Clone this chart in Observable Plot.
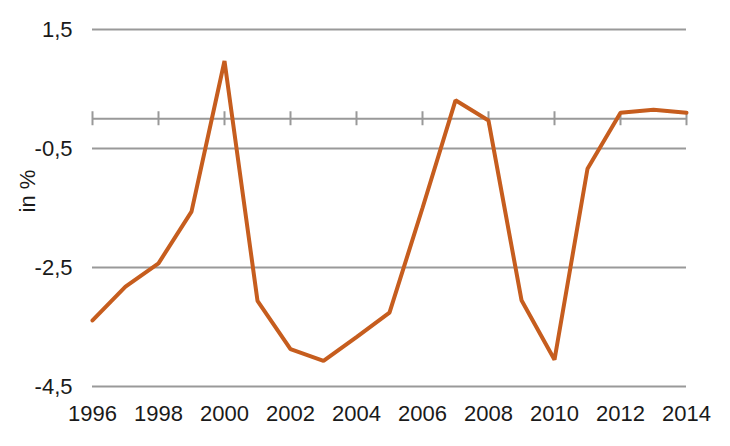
<!DOCTYPE html>
<html>
<head>
<meta charset="utf-8">
<script src="https://cdn.jsdelivr.net/npm/d3@7"></script>
<script src="https://cdn.jsdelivr.net/npm/@observablehq/plot@0.6"></script>
<style>
  html, body { margin: 0; padding: 0; background: #fff; }
</style>
</head>
<body>
<div id="chart"></div>
<script>
const years = [1996,1997,1998,1999,2000,2001,2002,2003,2004,2005,2006,2007,2008,2009,2010,2011,2012,2013,2014];
const values = [-3.39,-2.82,-2.43,-1.56,0.97,-3.06,-3.87,-4.07,-3.67,-3.26,-1.5,0.31,-0.03,-3.05,-4.05,-0.84,0.10,0.15,0.10];
const yTicks = [1.5,-0.5,-2.5,-4.5];
const xTicks = [1996,1998,2000,2002,2004,2006,2008,2010,2012,2014];
const yLabel = "in %";

const data = years.map((y, i) => ({year: y, value: values[i]}));
const fmt = d => String(d).replace(".", ",");

const chart = Plot.plot({
  width: 730,
  height: 446,
  marginLeft: 92,
  marginRight: 44,
  marginTop: 29,
  marginBottom: 60,
  style: {fontFamily: "Liberation Sans, Arial, sans-serif", fontSize: "22px", color: "#1a1a1a", background: "#fff"},
  x: {domain: [1996, 2014]},
  y: {domain: [-4.5, 1.5]},
  marks: [
    Plot.ruleY(yTicks, {stroke: "#999", strokeWidth: 2, strokeOpacity: 1}),
    Plot.ruleY([0], {stroke: "#999", strokeWidth: 2, strokeOpacity: 1}),
    Plot.ruleX(xTicks, {y1: 0, y2: 0, insetTop: -7, insetBottom: -7, stroke: "#999", strokeWidth: 2, strokeOpacity: 1}),
    Plot.line(data, {x: "year", y: "value", stroke: "#c65d1e", strokeWidth: 4, strokeLinejoin: "miter"}),
    Plot.axisY({ticks: yTicks, tickFormat: fmt, tickSize: 0, tickPadding: 20, label: null, fontSize: 22}),
    Plot.axisX({ticks: xTicks, tickFormat: d => String(d), tickSize: 0, tickPadding: 19, label: null, fontSize: 22}),
    Plot.text([yLabel], {text: d => d, frameAnchor: "left", textAnchor: "middle", lineAnchor: "middle", rotate: -90, dx: -65, dy: -17, fontSize: 22, fill: "#1a1a1a"})
  ]
});
document.getElementById("chart").appendChild(chart);
</script>
</body>
</html>
